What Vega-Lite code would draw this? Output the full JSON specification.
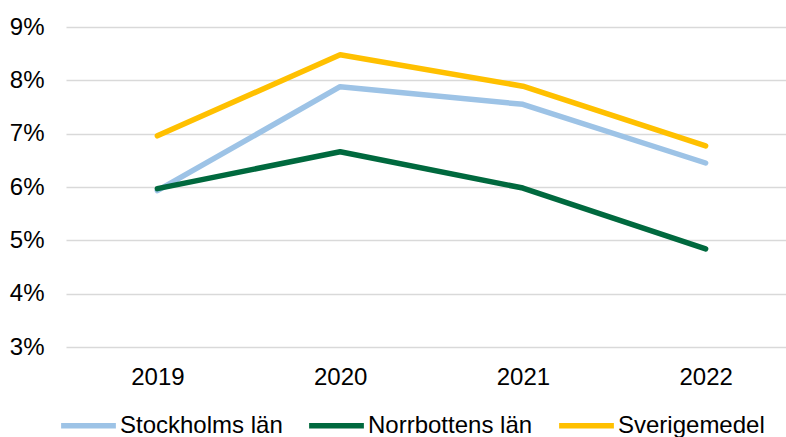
{
  "$schema": "https://vega.github.io/schema/vega-lite/v6.json",
  "autosize": {"type": "none"},
  "padding": {"left": 66, "top": 27, "right": 0, "bottom": 90},
  "width": 731,
  "height": 320,
  "background": "white",
  "config": {
    "view": {"stroke": null},
    "font": "Liberation Sans"
  },
  "data": {
    "values": [
      {"year": "2019", "serie": "Stockholms län", "v": 0.0593},
      {"year": "2020", "serie": "Stockholms län", "v": 0.0788},
      {"year": "2021", "serie": "Stockholms län", "v": 0.0755},
      {"year": "2022", "serie": "Stockholms län", "v": 0.0645},
      {"year": "2019", "serie": "Norrbottens län", "v": 0.0597},
      {"year": "2020", "serie": "Norrbottens län", "v": 0.0666},
      {"year": "2021", "serie": "Norrbottens län", "v": 0.0598},
      {"year": "2022", "serie": "Norrbottens län", "v": 0.0484},
      {"year": "2019", "serie": "Sverigemedel", "v": 0.0696},
      {"year": "2020", "serie": "Sverigemedel", "v": 0.0848},
      {"year": "2021", "serie": "Sverigemedel", "v": 0.0789},
      {"year": "2022", "serie": "Sverigemedel", "v": 0.0677}
    ]
  },
  "mark": {"type": "line", "strokeWidth": 5.5, "strokeCap": "round", "strokeJoin": "round"},
  "encoding": {
    "x": {
      "field": "year", "type": "ordinal",
      "scale": {"type": "point", "padding": 0.5},
      "axis": {"title": null, "labelAngle": 0, "labelFontSize": 24, "labelColor": "#000", "domain": false, "ticks": false, "labelPadding": 18, "grid": false}
    },
    "y": {
      "field": "v", "type": "quantitative",
      "scale": {"domain": [0.03, 0.09], "nice": false, "zero": false},
      "axis": {"title": null, "format": ".0%", "values": [0.03, 0.04, 0.05, 0.06, 0.07, 0.08, 0.09], "labelFontSize": 24, "labelColor": "#000", "domain": false, "ticks": false, "labelPadding": 22, "gridColor": "#d9d9d9", "gridWidth": 1.5}
    },
    "color": {
      "field": "serie", "type": "nominal",
      "scale": {"domain": ["Stockholms län", "Norrbottens län", "Sverigemedel"], "range": ["#9dc3e6", "#00693e", "#ffc000"]},
      "legend": {
        "title": null, "orient": "none", "direction": "horizontal", "legendX": -8, "legendY": 368,
        "symbolType": "stroke", "symbolSize": 3000, "symbolStrokeWidth": 5.5,
        "labelFontSize": 24, "labelColor": "#000", "labelOffset": 1, "labelLimit": 0, "columnPadding": 15
      }
    }
  }
}
